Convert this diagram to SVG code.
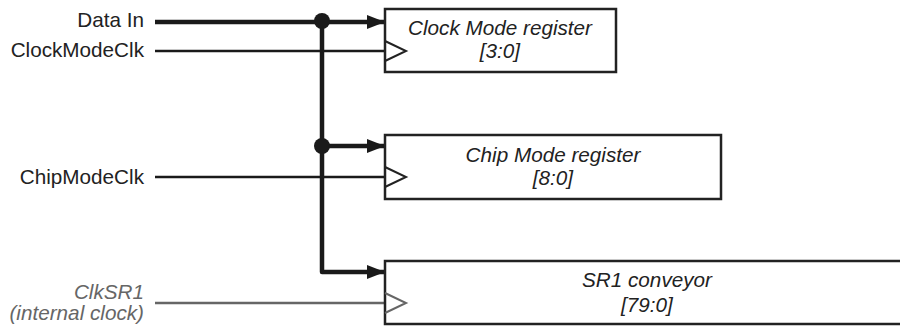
<svg xmlns="http://www.w3.org/2000/svg" width="900" height="331" viewBox="0 0 900 331">
<style>
text{font-family:"Liberation Sans",Arial,sans-serif;font-size:20.7px;fill:#222}
.it{font-style:italic}
.lbl{text-anchor:end}
.ctr{text-anchor:middle}
.box{fill:#fff;stroke:#222;stroke-width:2.5}
.bus{fill:none;stroke:#1a1a1a;stroke-width:4.5;stroke-linejoin:round}
.clk{fill:none;stroke:#1a1a1a;stroke-width:2.5}
.tri{fill:none;stroke:#222;stroke-width:2}
.grey{stroke:#666}
.gt{fill:#666}
</style>
<defs>
<marker id="ah" markerUnits="userSpaceOnUse" markerWidth="18" markerHeight="14" refX="18" refY="7" orient="auto"><path d="M0,0 L18,7 L0,14 Z" fill="#1a1a1a"/></marker>
</defs>
<g id="connectors">
<path class="bus" d="M155,22 H385" marker-end="url(#ah)"/>
<path class="bus" d="M322,22 V272 H385" marker-end="url(#ah)"/>
<path class="bus" d="M322,146 H385" marker-end="url(#ah)"/>
<circle cx="322" cy="21" r="8" fill="#1a1a1a"/>
<circle cx="322" cy="146" r="8" fill="#1a1a1a"/>
<path class="clk" d="M155,51 H385"/>
<path class="clk" d="M155,177 H385"/>
<path class="clk grey" d="M155,303 H385"/>
</g>
<g id="clock-mode-register">
<rect class="box" x="385" y="9" width="231" height="63"/>
<path class="tri" d="M385,41 L406,51 L385,61"/>
<text class="it ctr" x="500" y="35">Clock Mode register</text>
<text class="it ctr" x="500" y="58">[3:0]</text>
</g>
<g id="chip-mode-register">
<rect class="box" x="385" y="135" width="336" height="64"/>
<path class="tri" d="M385,167 L406,177 L385,187"/>
<text class="it ctr" x="553" y="162">Chip Mode register</text>
<text class="it ctr" x="553" y="185">[8:0]</text>
</g>
<g id="sr1-conveyor">
<rect class="box" x="385" y="261" width="524" height="63"/>
<path class="tri grey" d="M385,293 L406,303 L385,313"/>
<text class="it ctr" x="647" y="287">SR1 conveyor</text>
<text class="it ctr" x="647" y="312">[79:0]</text>
</g>
<g id="inputs">
<text class="lbl" x="144" y="27">Data In</text>
<text class="lbl" x="144" y="57">ClockModeClk</text>
<text class="lbl" x="144" y="184">ChipModeClk</text>
<text class="lbl it gt" x="144" y="299">ClkSR1</text>
<text class="lbl it gt" x="144" y="320">(internal clock)</text>
</g>
</svg>
